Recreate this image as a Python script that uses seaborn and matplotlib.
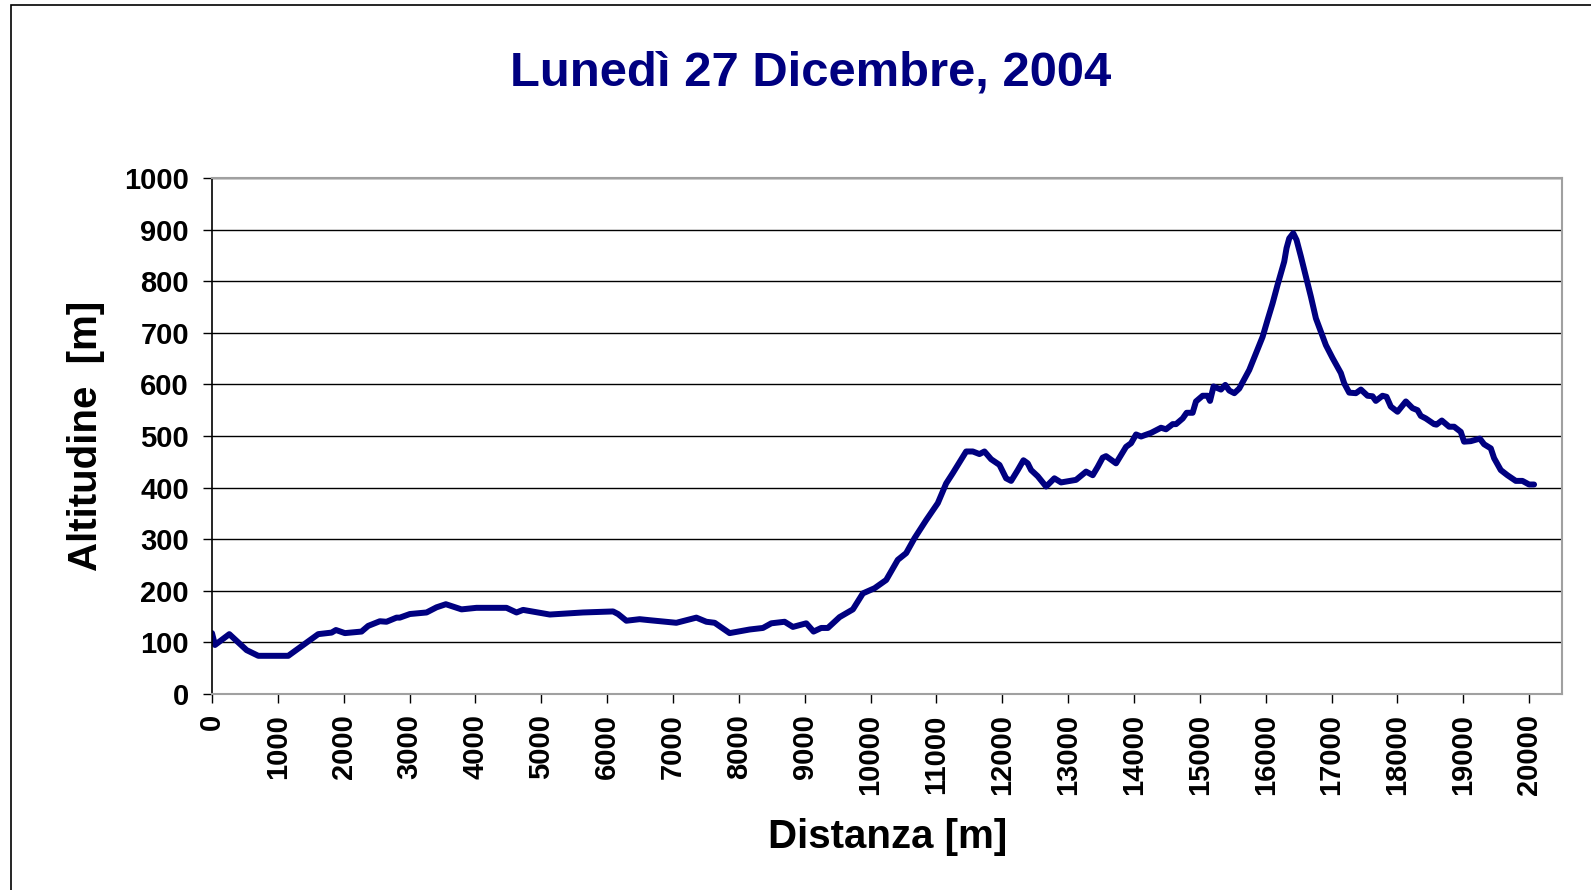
import pandas as pd
import matplotlib
matplotlib.use("Agg")
import matplotlib.pyplot as plt
import seaborn as sns
from matplotlib.patches import Rectangle

# ==========================================
# dati: profilo altimetrico
# ==========================================
DISTANZA = [
    0, 45, 263, 526, 703, 1158, 1386, 1613, 1816, 1882, 2018, 2271, 2372, 2549,
    2650, 2802, 2852, 3005, 3258, 3410, 3551, 3789, 4016, 4472, 4624, 4724,
    5129, 5635, 6090, 6166, 6292, 6494, 6646, 7051, 7355, 7507, 7633, 7860,
    8164, 8366, 8493, 8695, 8821, 9024, 9135, 9251, 9352, 9530, 9732, 9884,
    10061, 10238, 10414, 10541, 10668, 10845, 11022, 11148, 11249, 11452,
    11553, 11654, 11730, 11831, 11958, 12059, 12135, 12236, 12322, 12387,
    12438, 12539, 12666, 12792, 12893, 13121, 13273, 13374, 13449, 13525,
    13576, 13728, 13880, 13956, 14032, 14108, 14259, 14411, 14487, 14588,
    14639, 14740, 14800, 14891, 14942, 15043, 15119, 15155, 15209, 15321,
    15387, 15448, 15524, 15599, 15751, 15852, 15953, 16029, 16105, 16181,
    16247, 16282, 16317, 16358, 16419, 16469, 16535, 16611, 16687, 16763,
    16839, 16915, 17016, 17142, 17193, 17269, 17370, 17446, 17547, 17623,
    17673, 17774, 17835, 17901, 18002, 18129, 18230, 18306, 18356, 18432,
    18558, 18594, 18675, 18786, 18862, 18963, 19013, 19115, 19252, 19317,
    19419, 19469, 19570, 19671, 19798, 19899, 20000, 20076,
]
ALTITUDINE = [
    118, 95, 116, 85, 74, 74, 95, 116, 119, 124, 118, 121, 132, 141,
    140, 148, 148, 155, 158, 168, 174, 164, 167, 167, 158, 163,
    154, 158, 160, 155, 142, 145, 143, 138, 148, 140, 138, 118,
    125, 128, 137, 140, 130, 137, 121, 128, 128, 149, 164, 195,
    205, 221, 260, 273, 302, 337, 370, 408, 428, 470,
    470, 465, 470, 455, 444, 418, 413, 434, 453, 447,
    434, 422, 402, 418, 410, 415, 431, 424, 440, 458,
    461, 447, 479, 486, 503, 499, 506, 516, 513, 523,
    523, 534, 545, 545, 567, 578, 578, 568, 596, 590,
    599, 588, 583, 592, 628, 660, 692, 725, 757, 793,
    822, 838, 864, 883, 893, 880, 848, 809, 770, 728,
    702, 676, 651, 622, 602, 584, 583, 590, 578, 577,
    568, 578, 576, 557, 547, 567, 554, 550, 539, 534,
    523, 522, 530, 518, 518, 508, 489, 490, 495, 484,
    476, 457, 434, 424, 413, 413, 406, 406,
]
Y_TICKS = list(range(0, 1001, 100))
X_TICKS = list(range(0, 20001, 1000))

TITOLO = "Lunedì 27 Dicembre, 2004"
NAVY = "#000080"

sns.set_theme(style="white")
plt.rcParams['font.family'] = ['Liberation Sans', 'DejaVu Sans']
plt.rcParams['font.weight'] = 'bold'
plt.rcParams['text.color'] = 'black'
plt.rcParams['axes.labelcolor'] = 'black'
plt.rcParams['xtick.color'] = 'black'
plt.rcParams['ytick.color'] = 'black'

df = pd.DataFrame({"Distanza": DISTANZA, "Altitudine": ALTITUDINE})

fig = plt.figure(figsize=(15.91, 8.90), dpi=100)
ax = fig.add_axes([212 / 1591, 1 - 694 / 890, (1562 - 212) / 1591, (694 - 178) / 890])

# cornice esterna
fig.patches.append(Rectangle((10.5 / 1591, -0.05), 1.2, 1 - 4.5 / 890 + 0.05,
                             transform=fig.transFigure, fill=False,
                             edgecolor='black', linewidth=1.2))

sns.lineplot(data=df, x="Distanza", y="Altitudine", ax=ax, color=NAVY,
             linewidth=4.3, solid_joinstyle='round', solid_capstyle='round')

ax.set_xlim(0, 20500)
ax.set_ylim(0, 1000)
ax.set_yticks(Y_TICKS)
ax.set_xticks(X_TICKS)
ax.set_yticklabels([str(v) for v in Y_TICKS], fontsize=21, fontweight='bold')
ax.set_xticklabels([str(v) for v in X_TICKS], fontsize=21, fontweight='bold',
                   rotation=90)
ax.tick_params(axis='both', direction='out', length=6.5, width=1, color='black',
               left=True, bottom=True)
ax.tick_params(axis='y', pad=10)
ax.tick_params(axis='x', pad=8)

ax.grid(axis='y', color='black', linewidth=1)
ax.set_axisbelow(True)
for side in ['top', 'right', 'bottom']:
    ax.spines[side].set_color('#a0a0a0')
    ax.spines[side].set_linewidth(1.5)
ax.spines['left'].set_color('black')
ax.spines['left'].set_linewidth(1.2)

ax.set_xlabel("Distanza [m]", fontsize=29, fontweight='bold')
ax.set_ylabel("Altitudine  [m]", fontsize=29, fontweight='bold')
ax.xaxis.set_label_coords((888 - 212) / 1350, -(818 - 694) / 516)
ax.yaxis.set_label_coords(-(212 - 105) / 1350, (694 - 436) / 516)

fig.text(811 / 1591, 1 - 73 / 890, TITOLO, ha='center', va='center',
         fontsize=35.3, fontweight='bold', color=NAVY)

fig.savefig("out.png", dpi=100, facecolor='white')
